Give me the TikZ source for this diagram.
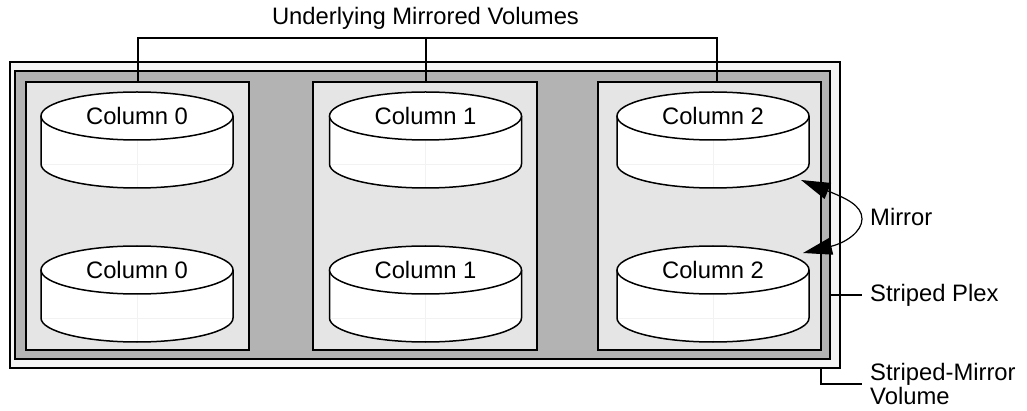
\documentclass[tikz,border=0pt]{standalone}
\usepackage{fontspec}
\setmainfont{Liberation Sans}
\usetikzlibrary{arrows.meta,calc}
\definecolor{volfill}{HTML}{F5F5F5}
\definecolor{plexfill}{HTML}{B3B3B3}
\definecolor{panelfill}{HTML}{E5E5E5}
\definecolor{faint}{HTML}{F2F2F2}
\tikzset{
  box/.style={draw=black, line width=2pt, inner sep=0pt, outer sep=0pt},
  volbox/.style={box, fill=volfill},
  plexbox/.style={box, fill=plexfill},
  panelbox/.style={box, fill=panelfill},
  conn/.style={draw=black, line width=2pt},
  cylline/.style={draw=black, line width=1.5pt},
  lbl/.style={inner sep=0pt, font=\fontsize{23.8}{24.5}\selectfont},
  mirrorarrow/.style={draw=black, line width=1.2pt, {Triangle[length=29pt,width=17pt]}-{Triangle[length=29pt,width=17pt]}},
}
\newcommand{\mycyl}[5]{%
  \fill[white] (#1-96,#2) -- (#1-96,#3) arc[start angle=180, end angle=0, x radius=96, y radius=24] -- (#1+96,#2) -- cycle;
  \draw[faint, line width=0.6pt] (#1,#2+24) -- (#1,#3+24);
  \draw[faint, line width=0.6pt] (#1-95,#3) -- (#1+95,#3);
  \draw[cylline] (#1-96,#2) -- (#1-96,#3) arc[start angle=180, end angle=0, x radius=96, y radius=24] -- (#1+96,#2);
  \draw[cylline, fill=white] (#1,#2) ellipse[x radius=96, y radius=24];
  \node[lbl] (#5) at (#1,#2) {#4};
}
\begin{document}
\begin{tikzpicture}[x=1pt, y=-1pt]
\useasboundingbox (0,0) rectangle (1027,411);
% boxes
\node[volbox, minimum width=830pt, minimum height=306pt] (vol) at (425,215) {};
\node[plexbox, minimum width=815pt, minimum height=288pt] (plex) at (422.5,215) {};
\node[panelbox, minimum width=223pt, minimum height=268pt] (p0) at (137.5,216) {};
\node[panelbox, minimum width=224pt, minimum height=268pt] (p1) at (425,216) {};
\node[panelbox, minimum width=223pt, minimum height=268pt] (p2) at (709.5,216) {};
% cylinders
\mycyl{137}{116}{164}{Column 0}{c00}
\mycyl{425.5}{116}{164}{Column 1}{c10}
\mycyl{713}{116}{164}{Column 2}{c20}
\mycyl{137}{270}{318}{Column 0}{c01}
\mycyl{425.5}{270}{318}{Column 1}{c11}
\mycyl{713}{270}{318}{Column 2}{c21}
% bracket
\node[lbl] (umv) at (425.5,18) {Underlying Mirrored Volumes};
\coordinate (b0) at (138,38);
\coordinate (b1) at (426,38);
\coordinate (b2) at (717,38);
\draw[conn] (b0 |- p0.north) -- (b0) -- (b2) -- (b2 |- p2.north);
\draw[conn] (b1) -- (b1 |- p1.north);
% labels on right
\node[lbl, anchor=west] (mir) at (870,217) {Mirror};
\node[lbl, anchor=west] (lplex) at (870,295) {Striped Plex};
\node[lbl, anchor=west, align=left] (lvol) at (870,384) {Striped-Mirror\\Volume};
\draw[conn] (lplex.west -| plex.east) -- ($(lplex.west)+(-8,0)$);
\coordinate (vl) at (821,384);
\draw[conn] (vl |- vol.south) -- (vl) -- ($(lvol.west)+(-8,0)$);
% mirror arrow
\coordinate (m1) at (801,180);
\coordinate (m2) at (803,253);
\draw[mirrorarrow] (m1) .. controls (845,198) and (862,205) .. (862,219) .. controls (862,232) and (845,243) .. (m2);
\end{tikzpicture}
\end{document}
